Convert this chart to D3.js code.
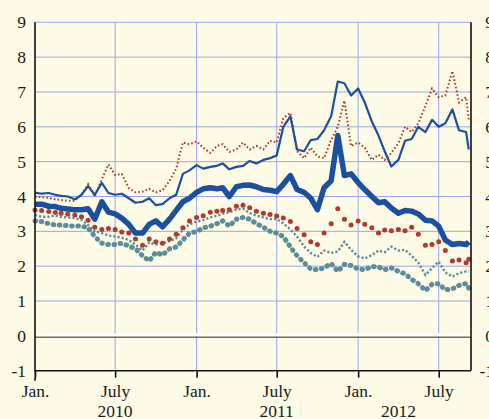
<!DOCTYPE html>
<html lang="en">
<head>
<meta charset="UTF-8">
<script src="https://cdnjs.cloudflare.com/ajax/libs/d3/7.9.0/d3.min.js"></script>
<title>Rates chart</title>
<style>
  body { margin: 0; background: #fdfbe6; }
  svg { display: block; }
  svg text { font-family: "Liberation Serif", "Times New Roman", serif; font-size: 17.5px; fill: #1a1a1a; }
</style>
</head>
<body>
<svg id="chart" width="489" height="419"></svg>
<script>
// semi-monthly observation dates
const dates = [
  "2010-01-01","2010-01-16","2010-02-01","2010-02-16","2010-03-01","2010-03-16",
  "2010-04-01","2010-04-16","2010-05-01","2010-05-16","2010-06-01","2010-06-16",
  "2010-07-01","2010-07-16","2010-08-01","2010-08-16","2010-09-01","2010-09-16",
  "2010-10-01","2010-10-16","2010-11-01","2010-11-16","2010-12-01","2010-12-16",
  "2011-01-01","2011-01-16","2011-02-01","2011-02-16","2011-03-01","2011-03-16",
  "2011-04-01","2011-04-16","2011-05-01","2011-05-16","2011-06-01","2011-06-16",
  "2011-07-01","2011-07-16","2011-08-01","2011-08-16","2011-09-01","2011-09-16",
  "2011-10-01","2011-10-16","2011-11-01","2011-11-16","2011-12-01","2011-12-16",
  "2012-01-01","2012-01-16","2012-02-01","2012-02-16","2012-03-01","2012-03-16",
  "2012-04-01","2012-04-16","2012-05-01","2012-05-16","2012-06-01","2012-06-16",
  "2012-07-01","2012-07-16","2012-08-01","2012-08-16","2012-09-01","2012-09-07"
];

// thin blue line
const blueThin = [
  4.11, 4.08, 4.10, 4.05, 4.02, 4.00, 3.92, 4.05, 4.30, 4.05, 4.39, 4.10,
  4.05, 4.08, 3.95, 3.82, 3.85, 3.95, 3.75, 3.78, 3.95, 4.05, 4.65, 4.75,
  4.90, 4.80, 4.85, 4.88, 4.95, 4.78, 4.85, 4.88, 5.02, 4.95, 5.05, 5.10,
  5.18, 6.00, 6.30, 5.35, 5.30, 5.62, 5.65, 5.90, 6.30, 7.30, 7.25, 6.90,
  7.10, 6.70, 6.15, 5.75, 5.30, 4.86, 5.05, 5.60, 5.65, 6.00, 5.85, 6.20,
  6.00, 6.10, 6.50, 5.90, 5.85, 5.35
];
// thick blue line
const blueThick = [
  3.78, 3.78, 3.72, 3.71, 3.66, 3.64, 3.62, 3.62, 3.65, 3.35, 3.85, 3.55,
  3.50, 3.38, 3.20, 2.95, 2.95, 3.20, 3.30, 3.13, 3.35, 3.60, 3.85, 3.95,
  4.12, 4.22, 4.25, 4.22, 4.25, 4.00, 4.28, 4.32, 4.33, 4.28, 4.20, 4.18,
  4.14, 4.35, 4.60, 4.20, 4.12, 3.95, 3.62, 4.25, 4.45, 5.75, 4.60, 4.65,
  4.40, 4.20, 4.00, 3.82, 3.85, 3.67, 3.52, 3.60, 3.58, 3.50, 3.32, 3.30,
  3.15, 2.75, 2.62, 2.65, 2.62, 2.70
];
// red fine dotted line
const redDotted = [
  4.00, 3.98, 3.96, 3.92, 3.90, 3.88, 3.88, 4.05, 4.35, 4.00, 4.50, 4.92,
  4.62, 4.65, 4.24, 4.12, 4.14, 4.22, 4.12, 4.18, 4.45, 4.80, 5.55, 5.50,
  5.58, 5.40, 5.25, 5.45, 5.50, 5.28, 5.35, 5.55, 5.35, 5.45, 5.35, 5.60,
  5.55, 6.25, 6.40, 5.30, 5.10, 5.40, 5.15, 5.10, 5.62, 6.00, 6.75, 5.45,
  5.55, 5.40, 5.05, 5.20, 5.05, 5.25, 5.53, 6.00, 5.85, 6.10, 6.60, 7.10,
  6.85, 6.90, 7.60, 6.70, 6.85, 6.20
];
// red large dots
const redDots = [
  3.61, 3.60, 3.57, 3.54, 3.52, 3.50, 3.47, 3.42, 3.32, 3.12, 3.05, 3.08,
  3.05, 2.98, 2.95, 2.78, 2.60, 2.78, 2.70, 2.66, 2.78, 2.92, 3.10, 3.30,
  3.40, 3.45, 3.55, 3.58, 3.60, 3.62, 3.72, 3.75, 3.68, 3.58, 3.52, 3.48,
  3.44, 3.38, 3.28, 3.08, 2.90, 2.70, 2.62, 2.95, 3.22, 3.65, 3.35, 3.18,
  3.30, 3.20, 3.10, 2.95, 3.04, 3.02, 3.05, 3.02, 3.12, 2.92, 2.60, 2.62,
  2.70, 2.45, 2.15, 2.18, 2.10, 2.20
];
// teal small dots
const tealSmall = [
  3.47, 3.42, 3.42, 3.45, 3.42, 3.40, 3.38, 3.33, 3.18, 3.00, 2.95, 2.88,
  2.85, 2.82, 2.75, 2.62, 2.45, 2.68, 2.62, 2.66, 2.72, 2.80, 3.05, 3.20,
  3.28, 3.32, 3.40, 3.45, 3.50, 3.55, 3.62, 3.65, 3.52, 3.45, 3.40, 3.35,
  3.35, 3.23, 3.05, 2.85, 2.56, 2.38, 2.27, 2.45, 2.38, 2.42, 2.70, 2.47,
  2.28, 2.22, 2.32, 2.45, 2.40, 2.56, 2.45, 2.47, 2.30, 2.10, 1.75, 1.95,
  2.13, 1.82, 1.70, 1.80, 1.85, 1.84
];
// teal large dots
const tealLarge = [
  3.30, 3.28, 3.22, 3.18, 3.18, 3.16, 3.15, 3.15, 3.10, 2.85, 2.66, 2.62,
  2.62, 2.66, 2.58, 2.50, 2.30, 2.15, 2.40, 2.32, 2.50, 2.55, 2.75, 2.95,
  2.99, 3.10, 3.15, 3.22, 3.30, 3.15, 3.35, 3.40, 3.35, 3.22, 3.12, 3.00,
  2.95, 2.85, 2.55, 2.30, 2.10, 1.92, 1.90, 1.95, 2.08, 1.85, 2.05, 2.02,
  1.92, 1.90, 1.99, 1.98, 1.90, 1.95, 1.85, 1.78, 1.62, 1.50, 1.30, 1.48,
  1.50, 1.32, 1.35, 1.45, 1.50, 1.37
];

const yTicks = [-1, 0, 1, 2, 3, 4, 5, 6, 7, 8, 9];
const xTickDates = ["2010-01-01","2010-07-01","2011-01-01","2011-07-01","2012-01-01","2012-07-01"];
const xTickLabels = ["Jan.","July","Jan.","July","Jan.","July"];
const yearLabels = ["2010","2011","2012"];
const yearDates = ["2010-07-01","2011-07-01","2012-04-01"];

const parse = d3.timeParse("%Y-%m-%d");
const svg = d3.select("#chart");
const L = 35, R = 471, T = 22.3, B = 370.7;

const x = d3.scaleTime()
  .domain([parse("2010-01-01"), parse("2012-09-12")])
  .range([L, R]);
const y = d3.scaleLinear().domain([-1, 9]).range([B, T]);

// grid
const grid = svg.append("g").attr("stroke", "#9aa6e6").attr("stroke-width", 1);
grid.selectAll("line.h").data(yTicks.filter(v => v > 0)).join("line")
  .attr("x1", L).attr("x2", R)
  .attr("y1", d => y(d)).attr("y2", d => y(d));
grid.selectAll("line.v").data(xTickDates.slice(1)).join("line")
  .attr("x1", d => x(parse(d))).attr("x2", d => x(parse(d)))
  .attr("y1", T).attr("y2", B);

// zero line: white band with grey line below
svg.append("line").attr("x1", L).attr("x2", R)
  .attr("y1", y(0) - 1.2).attr("y2", y(0) - 1.2)
  .attr("stroke", "#ffffff").attr("stroke-width", 3);
svg.append("line").attr("x1", L).attr("x2", R)
  .attr("y1", y(0) + 1.4).attr("y2", y(0) + 1.4)
  .attr("stroke", "#6e6e6e").attr("stroke-width", 1.4);

function rows(vals) {
  return dates.map((d, i) => ({ date: parse(d), v: vals[i] }));
}
const line = d3.line().x(d => x(d.date)).y(d => y(d.v));

const blue = "#1b4f9f", red = "#b03a2c", teal = "#5a8d9c";

// teal large dots (chain of blobs)
svg.append("path").datum(rows(tealLarge))
  .attr("d", line).attr("fill", "none")
  .attr("stroke", teal).attr("stroke-width", 5)
  .attr("stroke-linecap", "round").attr("stroke-dasharray", "0.6,5.6");

// teal small dots
svg.append("path").datum(rows(tealSmall))
  .attr("d", line).attr("fill", "none")
  .attr("stroke", teal).attr("stroke-width", 2.4)
  .attr("stroke-dasharray", "2.2,2");

// red large dots
svg.append("g").attr("fill", red)
  .selectAll("circle").data(rows(redDots)).join("circle")
  .attr("cx", d => x(d.date)).attr("cy", d => y(d.v)).attr("r", 2.5);

// red fine dotted line
svg.append("path").datum(rows(redDotted))
  .attr("d", line).attr("fill", "none")
  .attr("stroke", red).attr("stroke-width", 2)
  .attr("stroke-dasharray", "1.6,2.2");

// thick blue
svg.append("path").datum(rows(blueThick))
  .attr("d", line).attr("fill", "none")
  .attr("stroke", blue).attr("stroke-width", 5.5)
  .attr("stroke-linejoin", "round");

// thin blue
svg.append("path").datum(rows(blueThin))
  .attr("d", line).attr("fill", "none")
  .attr("stroke", blue).attr("stroke-width", 2.2)
  .attr("stroke-linejoin", "round");

// frame: left, right, bottom
const frame = svg.append("g").attr("stroke", "#111").attr("stroke-width", 1.6);
frame.append("line").attr("x1", L).attr("x2", L).attr("y1", T).attr("y2", B + 10);
frame.append("line").attr("x1", R).attr("x2", R).attr("y1", T).attr("y2", B);
frame.append("line").attr("x1", L).attr("x2", R).attr("y1", B).attr("y2", B);

// bottom axis with ticks
const xAxis = d3.axisBottom(x)
  .tickValues(xTickDates.map(parse))
  .tickFormat((d, i) => xTickLabels[i])
  .tickSize(7).tickPadding(7);
const gx = svg.append("g").attr("transform", `translate(0,${B})`).call(xAxis);
gx.select(".domain").remove();
gx.selectAll(".tick line").attr("stroke", "#111").attr("stroke-width", 1.6);
gx.selectAll(".tick").insert("line", ":first-child")
  .attr("x1", -2).attr("x2", -2).attr("y1", 1).attr("y2", 7)
  .attr("stroke", "#ffffff").attr("stroke-width", 2);

// year labels
svg.append("g").selectAll("text").data(yearLabels).join("text")
  .attr("x", (d, i) => x(parse(yearDates[i])))
  .attr("y", 417)
  .attr("text-anchor", "middle")
  .text(d => d);

// left and right value labels
const yAxisL = d3.axisLeft(y).tickValues(yTicks).tickSize(0).tickPadding(9)
  .tickFormat(d => String(d));
const gl = svg.append("g").attr("transform", `translate(${L},0)`).call(yAxisL);
gl.select(".domain").remove();
const gr = svg.append("g").attr("transform", `translate(503,0)`).call(yAxisL);
gr.select(".domain").remove();
</script>
</body>
</html>
